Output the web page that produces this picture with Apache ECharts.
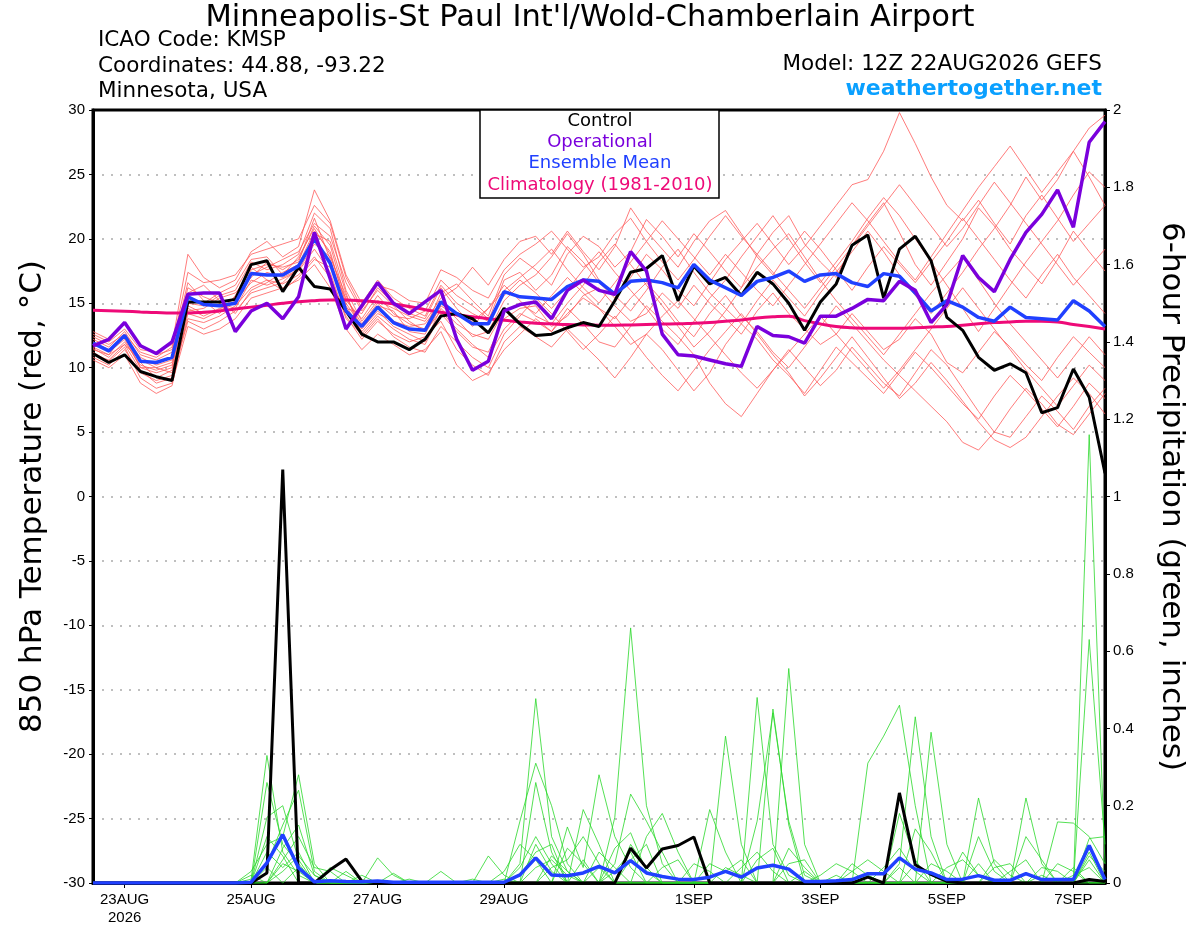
<!DOCTYPE html>
<html>
<head>
<meta charset="utf-8">
<title>KMSP GEFS plume</title>
<script src="https://cdn.jsdelivr.net/npm/echarts@6/dist/echarts.min.js"></script>
<style>
  html, body { margin: 0; padding: 0; background: #fff; }
  #chart { width: 1200px; height: 927px; }
</style>
</head>
<body>
<div id="chart"></div>
<script>
// forecast steps: 6-hourly from 12Z 22AUG2026 out to 384 h
const hours = [];
for (let h = 0; h <= 384; h += 6) hours.push(h);

const tickIdx = [2, 10, 18, 26, 38, 46, 54, 62];
const tickText = ['23AUG\n2026', '25AUG', '27AUG', '29AUG', '1SEP', '3SEP', '5SEP', '7SEP'];

// 850 hPa temperature (C)
const controlT = [
  11.1, 10.4, 11.0, 9.7, 9.3, 9.0, 15.1, 15.1, 15.1, 15.3, 18.0, 18.3, 15.9,
  17.8, 16.3, 16.1, 14.4, 12.6, 12.0, 12.0, 11.4, 12.2, 14.0, 14.2, 13.8, 12.7,
  14.6, 13.4, 12.5, 12.6, 13.1, 13.5, 13.2, 15.2, 17.4, 17.7, 18.7, 15.2, 17.9,
  16.5, 17.0, 15.6, 17.4, 16.5, 15.0, 12.9, 15.1, 16.5, 19.5, 20.3, 15.4, 19.2,
  20.2, 18.3, 13.9, 12.9, 10.8, 9.8, 10.3, 9.6, 6.5, 6.9, 9.9, 7.7, 1.8
];
const operT = [
  11.7, 12.2, 13.5, 11.7, 11.1, 12.0, 15.7, 15.8, 15.8, 12.8, 14.4, 15.0, 13.8,
  15.5, 20.5, 16.9, 13.0, 14.8, 16.6, 15.0, 14.2, 15.1, 16.0, 12.2, 9.8, 10.5,
  14.4, 14.9, 15.1, 13.8, 16.0, 16.8, 16.0, 15.7, 19.0, 17.5, 12.6, 11.0, 10.9,
  10.6, 10.3, 10.1, 13.2, 12.5, 12.4, 11.9, 14.0, 14.0, 14.6, 15.3, 15.2, 16.7,
  16.0, 13.5, 14.9, 18.7, 17.0, 15.9, 18.4, 20.5, 21.9, 23.8, 20.9, 27.5, 29.1
];
const meanT = [
  11.9, 11.3, 12.5, 10.5, 10.4, 10.8, 15.5, 14.9, 14.8, 15.0, 17.3, 17.2, 17.2,
  17.9, 20.0, 18.1, 14.4, 13.2, 14.7, 13.5, 13.0, 12.9, 15.1, 14.2, 13.4, 13.4,
  15.9, 15.5, 15.4, 15.3, 16.3, 16.8, 16.7, 15.7, 16.7, 16.8, 16.6, 16.2, 18.0,
  16.8, 16.2, 15.6, 16.7, 17.0, 17.5, 16.7, 17.2, 17.3, 16.6, 16.3, 17.3, 17.1,
  15.8, 14.4, 15.2, 14.7, 13.9, 13.6, 14.7, 13.9, 13.8, 13.7, 15.2, 14.4, 13.2
];
const climT = [
  14.45, 14.42, 14.38, 14.33, 14.28, 14.25, 14.25, 14.3, 14.4, 14.55, 14.7, 14.85, 15.0,
  15.12, 15.2, 15.25, 15.25, 15.2, 15.1, 14.95, 14.75, 14.5, 14.3, 14.1, 13.95, 13.8,
  13.68, 13.55, 13.45, 13.4, 13.35, 13.32, 13.3, 13.3, 13.32, 13.35, 13.38, 13.4, 13.45,
  13.5, 13.6, 13.7, 13.85, 13.95, 14.0, 13.65, 13.4, 13.2, 13.1, 13.05, 13.05, 13.05,
  13.1, 13.15, 13.2, 13.3, 13.4, 13.5, 13.55, 13.6, 13.6, 13.55, 13.35, 13.2, 13.0
];

// ensemble members, 850 hPa temperature
const memberT = [
  [11.5,10.8,12.0,10.2,9.8,10.2,14.8,14.2,14.5,15.5,17.0,18.2,17.6,
   18.4,21.0,19.5,15.2,13.8,15.6,14.2,13.4,13.0,15.8,16.5,15.2,14.0,
   17.2,18.5,17.6,16.4,18.8,20.2,19.4,17.8,19.0,21.5,20.2,18.6,20.4,
   19.0,17.5,16.2,18.8,20.5,21.8,19.6,18.2,17.0,19.5,21.2,22.8,20.5,
   18.0,16.4,18.2,20.0,22.4,21.0,19.2,17.8,16.5,18.4,20.6,19.0,17.5],
  [12.2,11.6,12.8,11.0,10.6,11.2,16.2,15.5,15.0,14.6,16.8,16.4,16.9,
   17.5,19.2,17.4,13.8,12.6,14.0,13.0,12.2,11.8,14.2,12.8,11.6,11.2,
   13.8,14.6,14.8,13.2,14.0,15.6,16.2,14.8,13.6,14.2,15.8,14.6,16.4,
   15.0,13.8,12.6,14.4,15.8,14.2,13.0,11.8,12.6,14.2,12.8,11.4,12.2,
   13.8,12.6,10.4,9.6,11.2,12.8,11.6,10.2,9.0,10.8,12.4,11.2,10.0],
  [10.8,10.2,11.4,9.6,9.0,9.4,13.8,13.5,14.0,14.8,16.2,16.8,16.5,
   17.2,18.6,17.0,14.0,12.2,13.6,12.6,12.0,12.4,13.6,11.4,10.2,9.4,
   12.0,13.2,12.4,11.6,13.0,11.8,10.6,9.2,10.8,12.6,11.4,9.8,8.2,
   9.6,11.8,13.4,12.2,10.6,9.4,8.0,9.8,11.6,10.4,9.2,8.0,9.6,
   11.2,10.0,8.6,7.2,6.0,7.8,9.4,8.2,6.8,5.4,7.0,8.8,7.6],
  [12.6,12.0,13.0,11.4,11.2,11.8,18.8,17.0,16.2,16.8,19.0,19.8,18.6,
   19.4,23.8,21.4,17.2,15.0,16.8,15.4,14.6,14.0,16.4,15.0,14.2,13.6,
   16.8,17.4,16.0,17.2,19.4,18.2,16.6,15.4,17.0,18.8,17.6,16.0,14.8,
   16.6,18.4,19.8,21.2,19.6,18.0,19.4,21.0,22.6,24.2,24.6,26.8,29.8,
   27.4,24.8,22.6,21.4,23.0,21.2,19.6,21.8,23.4,21.6,19.8,21.2,22.6],
  [11.2,10.5,11.6,9.2,8.4,8.8,13.2,12.6,13.0,13.8,15.4,15.8,16.2,
   16.8,18.0,16.2,13.0,11.4,12.6,11.8,11.0,11.4,12.8,10.2,9.0,9.6,
   11.4,12.6,13.8,12.8,14.6,13.4,12.0,11.6,13.2,14.8,13.6,12.4,11.0,
   8.8,7.2,6.2,8.0,9.8,11.4,10.0,8.6,9.8,11.6,10.2,8.8,7.8,
   9.6,11.4,10.2,8.4,6.6,5.0,4.6,6.2,7.8,6.6,5.2,7.0,8.4],
  [11.8,11.4,12.4,10.8,10.2,10.6,15.0,14.8,15.6,16.0,18.2,17.6,18.0,
   18.8,22.0,20.8,16.0,13.6,15.2,14.6,14.0,13.6,15.4,16.2,17.8,16.4,
   18.4,19.8,20.2,18.8,20.6,19.0,17.6,19.4,22.4,20.6,19.2,17.8,19.8,
   21.4,22.2,20.4,18.6,17.2,19.0,20.6,19.2,17.6,16.0,17.8,19.4,18.0,
   16.6,18.2,19.8,21.6,20.0,18.4,16.8,15.4,17.2,18.8,17.0,15.6,14.2],
  [10.6,10.0,11.0,8.8,8.0,8.6,14.2,13.8,14.4,15.2,16.6,17.4,17.0,
   17.6,19.6,18.6,15.6,13.0,14.4,13.2,12.6,12.0,14.6,13.4,12.6,12.2,
   14.4,15.0,14.2,15.6,17.0,15.8,14.6,13.8,15.4,16.6,15.2,13.6,12.4,
   14.2,15.6,14.0,12.8,11.2,10.0,11.6,13.2,14.8,13.4,12.0,10.6,9.4,
   8.2,7.0,5.8,4.2,3.6,5.0,6.8,8.4,7.2,5.6,4.8,6.4,8.0],
  [12.0,11.2,12.2,10.0,9.6,10.0,15.8,16.4,15.2,14.2,16.0,16.6,17.4,
   18.0,20.6,19.0,14.8,12.8,14.2,13.6,13.2,13.4,15.0,13.8,12.4,12.8,
   15.2,16.4,17.2,18.6,20.4,18.8,16.8,15.6,14.4,16.0,17.8,19.2,17.4,
   15.8,14.6,13.4,15.2,16.8,15.4,14.0,15.8,17.4,19.0,20.6,19.0,17.2,
   15.6,14.2,15.8,17.4,19.2,20.8,22.6,24.8,23.0,24.6,26.8,28.6,29.6],
  [11.4,11.0,12.6,10.4,9.2,9.8,14.6,14.0,14.6,15.0,17.6,18.0,17.8,
   18.2,21.6,18.4,14.6,14.2,16.2,15.0,14.2,13.8,16.2,14.6,13.2,14.6,
   16.4,15.2,14.0,13.4,15.0,16.4,18.2,19.6,18.0,16.4,14.8,13.2,11.6,
   12.8,14.4,16.2,17.8,19.2,20.4,18.6,16.8,15.2,13.8,12.4,11.0,12.6,
   14.2,15.8,17.2,18.6,16.8,15.0,13.4,12.0,10.6,9.2,10.8,12.4,11.0],
  [12.8,12.2,13.4,11.8,11.0,11.4,16.6,15.2,14.2,15.6,17.8,16.8,16.0,
   17.0,18.4,17.8,15.4,13.4,15.0,14.0,13.8,14.4,16.8,15.6,14.8,13.8,
   15.6,16.8,15.8,14.6,16.0,17.6,19.0,17.4,16.0,14.6,13.0,11.8,13.6,
   15.4,16.8,18.6,20.2,21.8,20.0,18.2,16.6,18.2,19.8,21.6,23.2,21.8,
   20.0,18.2,16.4,14.6,12.8,14.6,16.4,18.2,19.8,21.4,23.4,25.2,24.0],
  [11.0,10.6,11.8,9.8,8.8,9.2,13.6,13.0,13.6,14.4,15.8,16.2,16.6,
   17.8,20.4,19.8,15.8,12.4,13.8,12.4,11.6,11.2,13.2,12.0,10.8,10.0,
   12.6,14.0,15.4,14.2,12.8,11.4,12.6,14.0,12.4,10.8,9.4,8.2,9.8,
   11.4,12.8,14.2,12.6,11.0,9.6,7.8,9.2,10.8,12.4,10.8,9.2,7.6,
   8.8,10.4,9.0,7.4,5.8,4.4,3.8,4.6,6.2,7.8,9.2,8.0,6.4],
  [12.4,11.8,12.6,11.2,10.8,11.6,17.4,16.6,16.8,17.2,18.8,19.2,19.6,
   20.0,22.6,21.2,17.0,14.6,16.4,16.0,15.2,15.0,17.6,17.0,16.0,15.4,
   17.6,18.8,19.6,20.6,19.2,17.8,18.6,20.4,21.6,19.8,18.2,16.8,18.4,
   20.2,21.8,20.2,18.8,17.4,16.0,14.6,16.2,17.8,19.4,21.0,22.6,24.2,
   22.6,21.0,19.4,20.8,22.6,24.4,22.8,21.2,19.6,18.0,16.4,17.8,19.2],
  [11.6,11.0,11.8,10.6,10.0,9.6,14.4,14.6,15.4,15.8,17.2,17.8,18.4,
   19.0,21.2,20.2,16.6,14.4,16.0,14.8,13.6,12.8,14.4,13.0,11.8,10.8,
   13.0,14.2,13.6,12.8,14.2,15.4,14.6,13.2,11.8,12.6,14.0,15.2,13.8,
   12.4,11.0,9.6,8.4,9.8,11.2,12.6,14.0,12.6,11.2,9.8,8.4,9.8,
   11.4,13.0,14.6,16.2,14.6,13.0,11.4,9.8,8.4,7.0,8.6,10.2,9.0],
  [12.0,11.4,12.4,10.0,10.0,10.4,15.4,15.0,15.8,16.4,18.4,18.6,17.2,
   18.6,20.8,18.8,15.0,13.2,14.8,14.4,12.8,12.6,14.8,14.0,13.6,14.6,
   16.0,17.0,18.0,19.2,17.6,16.2,15.0,16.6,18.2,19.8,21.4,20.0,18.6,
   17.2,18.8,17.4,16.0,14.8,16.4,18.0,19.6,21.2,22.8,21.4,19.8,18.2,
   16.8,18.6,20.4,22.2,24.0,25.6,27.2,25.4,23.6,25.2,26.8,24.8,22.6]
];

// 6-hour precipitation (inches)
const controlP = [
  0, 0, 0, 0, 0, 0, 0, 0, 0, 0, 0, 0.026, 1.07,
  0, 0, 0.034, 0.062, 0.005, 0, 0, 0, 0, 0, 0, 0, 0,
  0, 0, 0, 0, 0, 0, 0, 0, 0.09, 0.039, 0.088, 0.097, 0.119,
  0, 0, 0, 0, 0, 0, 0, 0, 0, 0, 0.015, 0, 0.233,
  0.047, 0.022, 0.004, 0, 0, 0, 0, 0, 0, 0, 0, 0.009, 0.004
];
const meanP = [
  0, 0, 0, 0, 0, 0, 0, 0, 0, 0, 0.002, 0.052, 0.125,
  0.039, 0.003, 0.006, 0.004, 0.003, 0.005, 0.002, 0.002, 0.002, 0.002, 0.002, 0.002, 0.002,
  0.002, 0.021, 0.065, 0.021, 0.019, 0.026, 0.043, 0.026, 0.058, 0.026, 0.017, 0.010, 0.009,
  0.015, 0.03, 0.015, 0.039, 0.046, 0.036, 0.004, 0.004, 0.006, 0.009, 0.024, 0.024, 0.065,
  0.036, 0.026, 0.009, 0.01, 0.019, 0.007, 0.007, 0.024, 0.009, 0.009, 0.009, 0.097, 0.009
];

const memberP = [
  [0,0,0,0,0,0,0,0,0,0,0.01,0.33,0.08,
   0.02,0,0,0,0,0.065,0.02,0,0,0,0,0,0,
   0,0.05,0.477,0.12,0.03,0,0,0,0.1,0.04,0,0,0,
   0,0,0,0.48,0.1,0.02,0,0,0,0,0,0,0.05,
   0.43,0.12,0,0,0,0,0,0,0,0,0,1.16,0.05],
  [0,0,0,0,0,0,0,0,0,0,0,0.26,0.1,
   0.05,0,0.04,0.02,0,0,0,0,0,0,0,0,0,
   0,0.16,0.31,0.2,0.05,0,0,0.17,0.66,0.2,0.05,0,0,
   0,0.38,0.1,0,0,0,0,0,0,0,0.31,0.38,0.46,
   0.2,0,0,0,0,0,0,0,0,0,0,0.63,0.1],
  [0,0,0,0,0,0,0,0,0,0,0,0.17,0.2,
   0.06,0,0,0,0,0,0,0,0,0.03,0,0,0,
   0,0,0.26,0.08,0,0.19,0.1,0,0,0,0,0,0,
   0.19,0.08,0,0,0,0.555,0.1,0,0,0,0,0,0,
   0,0.39,0.1,0,0.22,0.05,0,0,0,0,0,0.115,0.12],
  [0,0,0,0,0,0,0,0,0,0,0.03,0.1,0.12,
   0.28,0.05,0,0,0,0,0,0,0,0,0,0,0.07,
   0.02,0,0,0,0.145,0.04,0.28,0.12,0.04,0,0,0,0,
   0,0,0,0,0.45,0.15,0,0,0,0,0,0,0,
   0.14,0.08,0,0,0,0,0,0.22,0.05,0,0,0,0],
  [0,0,0,0,0,0,0,0,0,0,0,0.05,0.15,
   0.24,0.03,0,0,0,0,0.025,0,0,0,0,0,0,
   0,0.02,0.08,0.1,0,0,0,0.05,0.23,0.16,0.08,0,0,
   0,0,0,0.16,0.44,0.16,0.02,0,0,0,0,0,0.18,
   0.06,0,0,0,0.12,0.03,0,0,0,0.158,0.155,0.12,0.05],
  [0,0,0,0,0,0,0,0,0,0,0,0,0.06,
   0.12,0.04,0.03,0,0,0,0,0,0,0,0,0,0,
   0,0,0,0.04,0.06,0.12,0.05,0,0,0.12,0.18,0.08,0,
   0,0,0,0,0,0.09,0.04,0,0,0.03,0.06,0.03,0,
   0,0,0,0,0,0,0,0.12,0.06,0,0,0.08,0],
  [0,0,0,0,0,0,0,0,0,0,0,0.08,0.04,
   0.08,0,0,0.03,0,0,0,0,0,0,0,0,0,
   0.03,0.1,0.06,0,0,0,0.08,0.04,0,0,0,0,0,
   0.05,0.03,0.06,0,0,0,0,0.02,0.05,0.03,0,0,0,
   0,0.05,0.03,0,0,0.04,0.05,0,0,0,0,0.06,0],
  [0,0,0,0,0,0,0,0,0,0,0.02,0,0.09,
   0.15,0.02,0,0,0,0,0,0,0,0,0,0.01,0,
   0,0,0.04,0.06,0.02,0,0,0.09,0.13,0.03,0,0,0,
   0,0,0.04,0.08,0.03,0,0,0,0,0,0,0.04,0.09,
   0.03,0,0,0.08,0.02,0,0,0,0.04,0.03,0,0,0],
  [0,0,0,0,0,0,0,0,0,0,0,0.12,0.07,
   0,0,0,0,0.02,0,0,0,0,0,0,0,0,
   0,0,0,0,0.09,0.05,0,0,0,0,0.04,0.06,0,
   0,0,0,0,0,0,0.03,0,0,0,0.02,0,0,
   0.05,0.02,0,0,0,0,0.03,0.06,0,0,0.02,0.04,0],
  [0,0,0,0,0,0,0,0,0,0,0,0,0.03,
   0.07,0.02,0,0,0,0,0,0,0,0,0,0,0,
   0,0,0.1,0.03,0,0,0.04,0,0.06,0.1,0,0,0,
   0,0,0,0.06,0.09,0,0,0,0.02,0,0,0,0,
   0,0,0.04,0.06,0.02,0,0,0,0,0.05,0.03,0,0],
  [0,0,0,0,0,0,0,0,0,0,0,0.04,0,
   0.04,0,0,0,0,0,0,0.01,0,0,0,0,0,
   0,0.04,0.12,0.05,0,0.06,0,0,0,0,0,0,0.05,
   0.03,0,0,0,0,0.05,0.06,0,0,0,0,0,0.04,
   0,0,0,0,0,0.06,0.02,0,0,0,0,0.07,0.03],
  [0,0,0,0,0,0,0,0,0,0,0,0,0.05,
   0.03,0,0,0,0,0,0,0,0,0,0,0,0,
   0.01,0,0,0.07,0.03,0,0,0.03,0.08,0,0,0,0,
   0,0.04,0.02,0,0,0,0,0,0,0.05,0.02,0,0,
   0,0,0,0,0.05,0,0,0,0.02,0,0.04,0,0]
];

const TEXT_FONT = 'DejaVu Sans';
const TICK_FONT = 'Liberation Sans';

function lineSeries(name, data, color, width, axis, extra) {
    return Object.assign({
        name: name,
        type: 'line',
        data: data,
        yAxisIndex: axis,
        symbol: 'none',
        lineStyle: { color: color, width: width },
        emphasis: { disabled: true },
        silent: true
    }, extra || {});
}

function buildSeries() {
    const series = [];
    memberT.forEach((m, i) => {
        series.push(lineSeries('memT' + i, m, '#ff5a5a', 0.8, 0, { z: 2 }));
    });
    memberP.forEach((m, i) => {
        series.push(lineSeries('memP' + i, m, '#2ad82a', 0.8, 1, { z: 2 }));
    });
    series.push(lineSeries('Climatology', climT, '#ee0a78', 3, 0, { smooth: true, z: 3 }));
    series.push(lineSeries('Control', controlT, '#000000', 3, 0, { z: 4 }));
    series.push(lineSeries('Control precip', controlP, '#000000', 3, 1, { z: 4 }));
    series.push(lineSeries('Ensemble Mean', meanT, '#2040ff', 3.5, 0, { z: 5 }));
    series.push(lineSeries('Mean precip', meanP, '#2040ff', 3.5, 1, { z: 5 }));
    series.push(lineSeries('Operational', operT, '#7a00dc', 3.5, 0, { z: 6 }));
    return series;
}

function headerText(x, y, text, size, align, color, weight) {
    return {
        type: 'text',
        x: x,
        y: y,
        z: 100,
        style: {
            text: text,
            fontFamily: TEXT_FONT,
            fontSize: size,
            fontWeight: weight || 'normal',
            fill: color || '#000',
            align: align,
            verticalAlign: 'middle'
        }
    };
}

function initChart() {
    const chart = echarts.init(document.getElementById('chart'), null, { renderer: 'canvas' });

    const option = {
        animation: false,
        backgroundColor: '#fff',
        textStyle: { fontFamily: TICK_FONT },
        grid: {
            left: 93, right: 95, top: 110, bottom: 44,
            show: true, borderColor: '#000', borderWidth: 3, backgroundColor: 'transparent'
        },
        xAxis: {
            type: 'category',
            data: hours,
            boundaryGap: false,
            axisLine: { onZero: false, lineStyle: { color: '#000', width: 3 } },
            axisTick: {
                interval: (idx) => tickIdx.includes(idx),
                length: 5,
                lineStyle: { color: '#000', width: 1 }
            },
            axisLabel: {
                interval: (idx) => tickIdx.includes(idx),
                formatter: (val, idx) => tickText[tickIdx.indexOf(idx)] || '',
                color: '#000',
                fontSize: 15,
                fontFamily: TICK_FONT,
                margin: 8,
                lineHeight: 18
            },
            splitLine: { show: false }
        },
        yAxis: [
            {
                type: 'value',
                min: -30, max: 30, interval: 5,
                position: 'left',
                name: '850 hPa Temperature (red, \u00B0C)',
                nameLocation: 'middle',
                nameGap: 45,
                nameTextStyle: { fontSize: 31, color: '#000', fontFamily: TEXT_FONT },
                axisLine: { show: true, onZero: false, lineStyle: { color: '#000', width: 3 } },
                axisTick: { show: true, inside: false, length: 4, lineStyle: { color: '#000' } },
                axisLabel: { color: '#000', fontSize: 15, fontFamily: TICK_FONT, margin: 8 },
                splitLine: {
                    show: true,
                    showMinLine: false,
                    showMaxLine: false,
                    lineStyle: { color: '#aaaaaa', width: 1.5, type: [2, 7] }
                }
            },
            {
                type: 'value',
                min: 0, max: 2, interval: 0.2,
                position: 'right',
                name: '6-hour Precipitation (green, inches)',
                nameLocation: 'middle',
                nameGap: 51,
                nameRotate: -90,
                nameTextStyle: { fontSize: 31, color: '#000', fontFamily: TEXT_FONT },
                axisLine: { show: true, onZero: false, lineStyle: { color: '#000', width: 3 } },
                axisTick: { show: true, inside: false, length: 5, lineStyle: { color: '#000' } },
                axisLabel: {
                    color: '#000', fontSize: 15, fontFamily: TICK_FONT, margin: 8,
                    formatter: (v) => (Math.round(v * 10) / 10).toString()
                },
                splitLine: { show: false }
            }
        ],
        series: buildSeries(),
        graphic: [
            headerText(590, 18, "Minneapolis-St Paul Int'l/Wold-Chamberlain Airport", 30.5, 'center'),
            headerText(98, 40, 'ICAO Code: KMSP', 21.5, 'left'),
            headerText(98, 66, 'Coordinates: 44.88, -93.22', 21.5, 'left'),
            headerText(98, 91, 'Minnesota, USA', 21.5, 'left'),
            headerText(1102, 64, 'Model: 12Z 22AUG2026 GEFS', 21.5, 'right'),
            headerText(1102, 89, 'weathertogether.net', 22, 'right', '#0aa0ff', 'bold'),
            {
                type: 'rect',
                z: 99,
                shape: { x: 480, y: 110, width: 239, height: 88 },
                style: { fill: '#fff', stroke: '#000', lineWidth: 1.5 }
            },
            headerText(600, 121, 'Control', 18, 'center', '#000'),
            headerText(600, 142, 'Operational', 18, 'center', '#7a00dc'),
            headerText(600, 163, 'Ensemble Mean', 18, 'center', '#2040ff'),
            headerText(600, 185, 'Climatology (1981-2010)', 18, 'center', '#ee0a78')
        ]
    };

    chart.setOption(option);
}

window.onload = function () {
    initChart();
};
</script>
</body>
</html>
